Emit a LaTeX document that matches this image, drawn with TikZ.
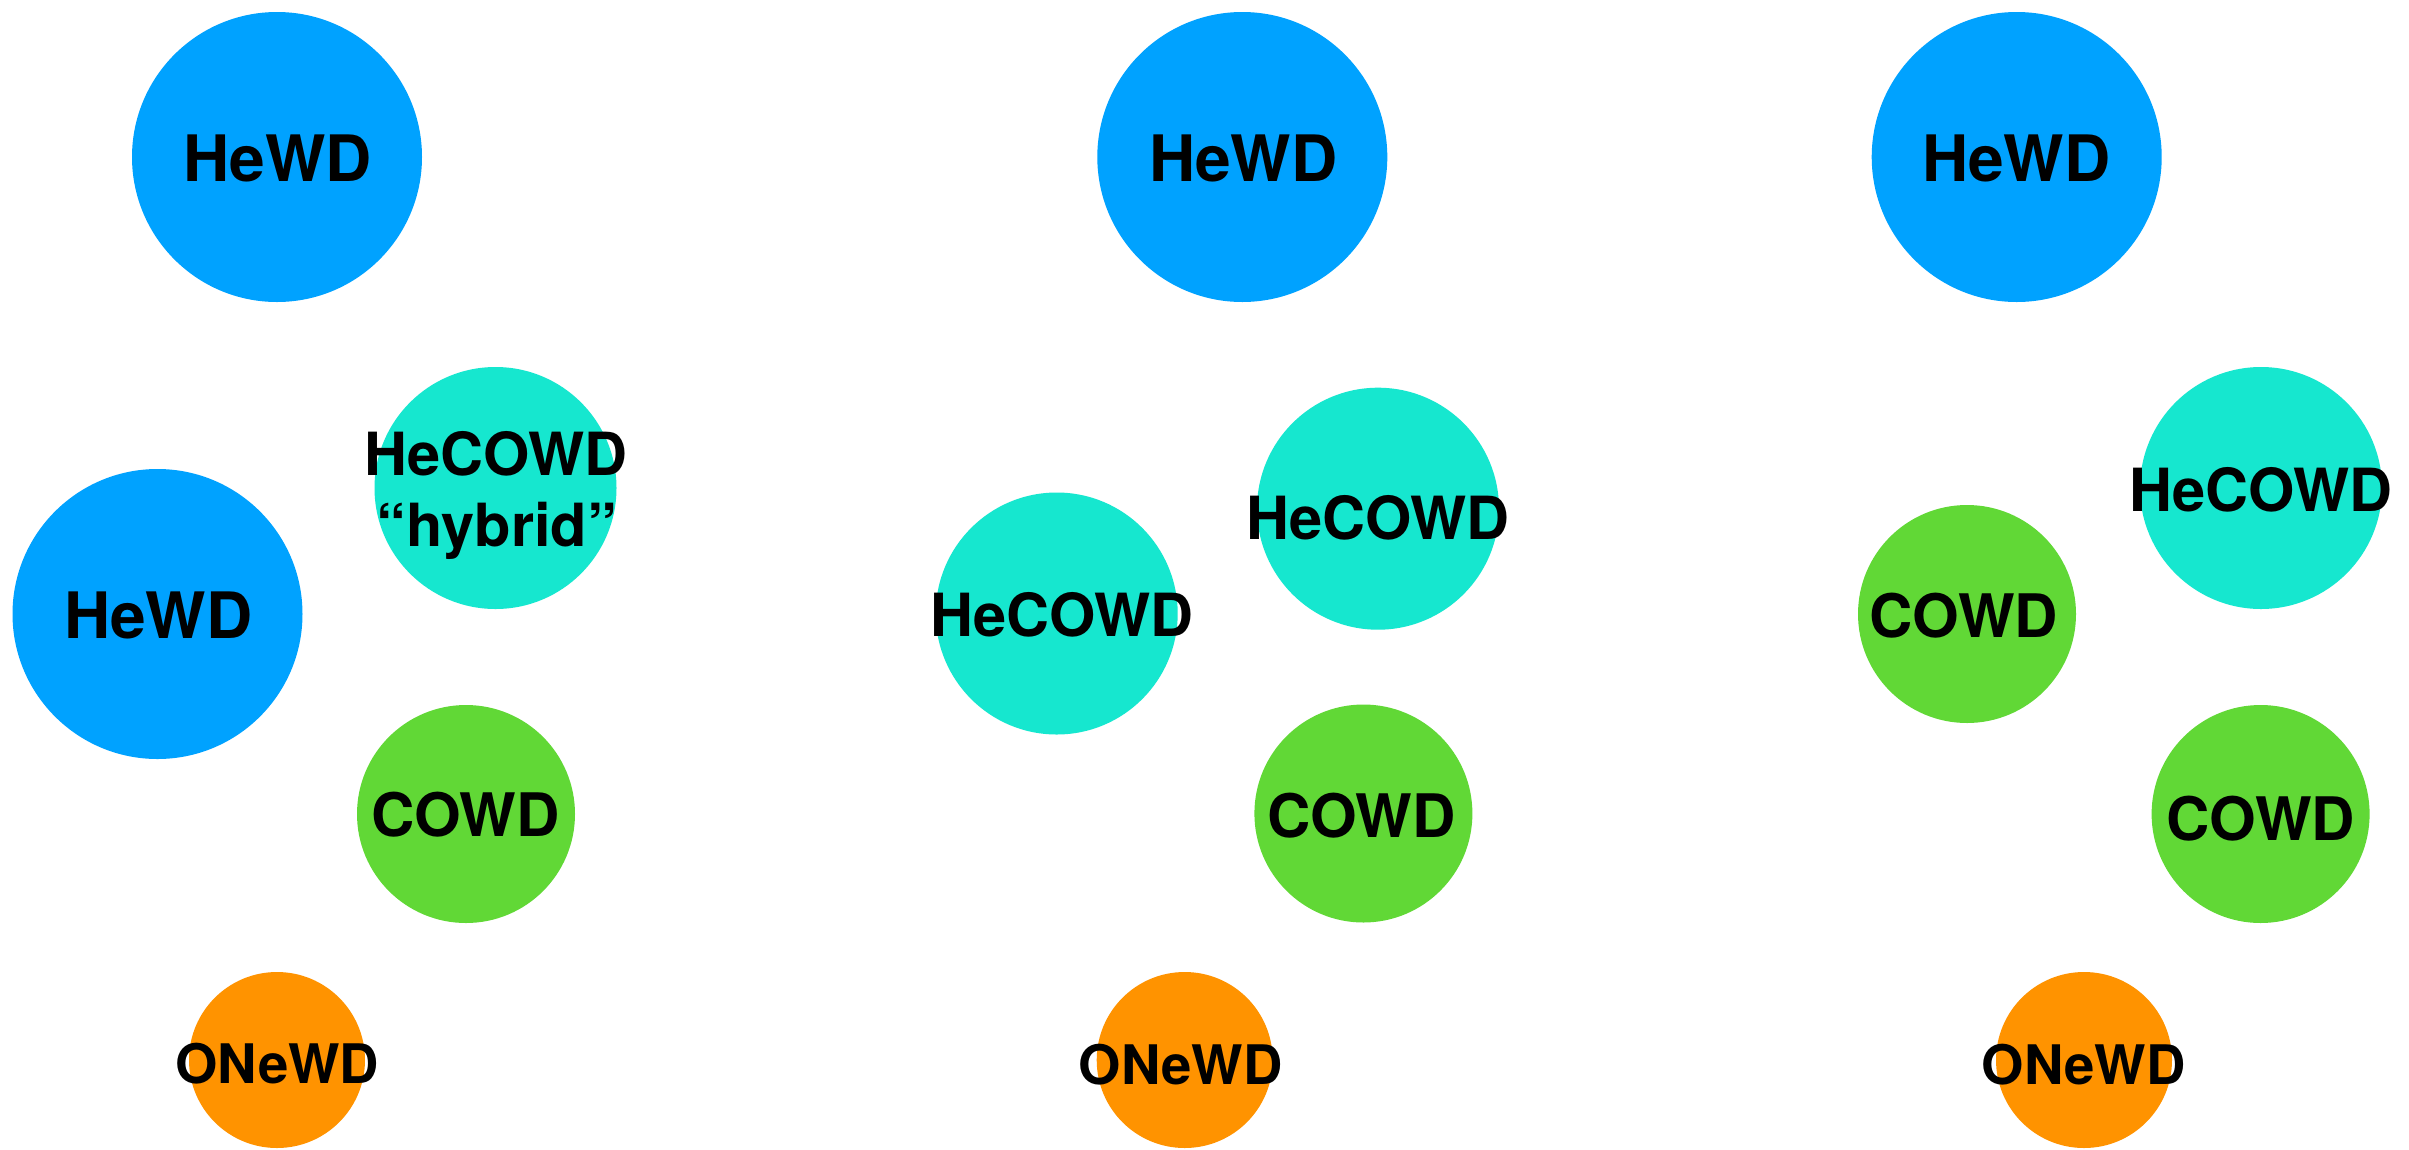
\documentclass[tikz,border=0pt]{standalone}
\usepackage{fontspec}
\setmainfont{TeX Gyre Heros}
\definecolor{wdblue}{HTML}{00A2FF}
\definecolor{wdcyan}{HTML}{16E7CF}
\definecolor{wdgreen}{HTML}{61D836}
\definecolor{wdorange}{HTML}{FF9300}
\tikzset{
  disc/.style={circle, inner sep=0pt, outer sep=0pt, draw=none, fill=#1},
  he/.style={disc=wdblue, minimum size=290pt},
  heco/.style={disc=wdcyan, minimum size=242pt},
  co/.style={disc=wdgreen, minimum size=218pt},
  one/.style={disc=wdorange, minimum size=176pt},
  lbl/.style={anchor=base, inner sep=0pt, outer sep=0pt, text=black, font=\bfseries\fontsize{#1}{72}\selectfont},
}
\begin{document}
\begin{tikzpicture}[x=1pt,y=-1pt]
\useasboundingbox (0,0) rectangle (2409,1149);
\clip (0,0) rectangle (2409,1149);
\fill[white] (0,0) rectangle (2409,1149);
% left column
\node[he]   (lhe1) at (277,157) {};
\node[heco] (lhco) at (495.5,488) {};
\node[he]   (lhe2) at (157.5,614) {};
\node[co]   (lco)  at (466,814) {};
\node[one]  (lone) at (277,1060) {};
\node[lbl=64] (tlhe1) at (277.6,181) {HeWD};
\node[lbl=59.5] (tlhco) at (496.3,475) {HeCOWD};
\node[lbl=59.5] (tlhyb) at (496.7,546) {“hybrid”};
\node[lbl=64] (tlhe2) at (158.3,638.7) {HeWD};
\node[lbl=60] (tlco)  at (465.5,836.7) {COWD};
\node[lbl=54.5] (tlone) at (277.2,1083.5) {ONeWD};
% middle column
\node[he]   (mhe)   at (1242.3,157) {};
\node[heco] (mhco1) at (1378,508.7) {};
\node[heco] (mhco2) at (1056.7,613.5) {};
\node[co]   (mco)   at (1363.4,813.5) {};
\node[one]  (mone)  at (1184.7,1060) {};
\node[lbl=64] (tmhe)   at (1243.3,181.7) {HeWD};
\node[lbl=59.5] (tmhco1) at (1378.3,539.7) {HeCOWD};
\node[lbl=59.5] (tmhco2) at (1062.4,636.6) {HeCOWD};
\node[lbl=60] (tmco)   at (1361.5,837) {COWD};
\node[lbl=54.5] (tmone)  at (1180.8,1084) {ONeWD};
% right column
\node[he]   (rhe)  at (2016.7,157) {};
\node[heco] (rhco) at (2261,488) {};
\node[co]   (rco1) at (1967,614) {};
\node[co]   (rco2) at (2260.6,814) {};
\node[one]  (rone) at (2084,1060) {};
\node[lbl=64] (trhe)  at (2016.3,181.7) {HeWD};
\node[lbl=59.5] (trhco) at (2261,511) {HeCOWD};
\node[lbl=60] (trco1) at (1963.8,637.3) {COWD};
\node[lbl=60] (trco2) at (2260.7,840) {COWD};
\node[lbl=54.5] (trone) at (2083.8,1084) {ONeWD};
\end{tikzpicture}
\end{document}
